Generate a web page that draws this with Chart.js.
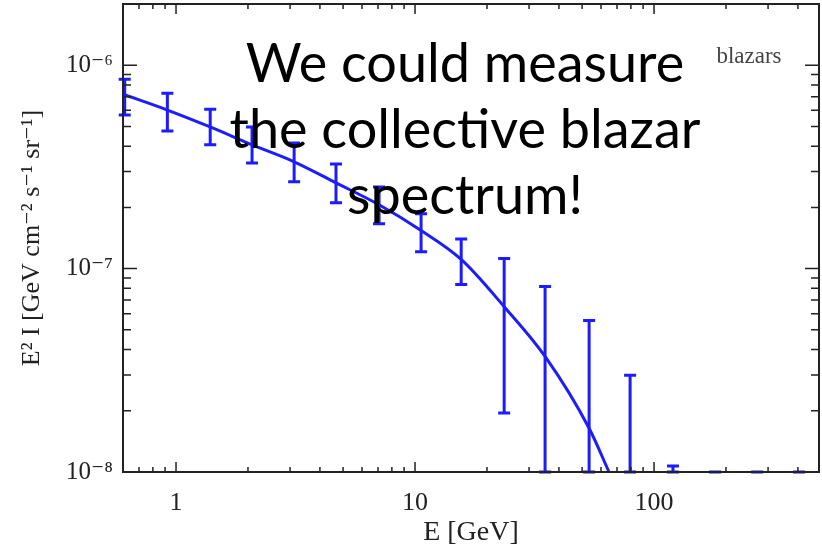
<!DOCTYPE html>
<html>
<head>
<meta charset="utf-8">
<script src="https://cdn.jsdelivr.net/npm/chart.js@4.4.1/dist/chart.umd.min.js"></script>
<style>
  html, body { margin: 0; padding: 0; background: #fff; }
  #wrap { width: 822px; height: 547px; }
</style>
</head>
<body>
<div id="wrap"><canvas id="spectrum" width="822" height="547"></canvas></div>
<script>
// ── Data ──────────────────────────────────────────────────

// bin energies [GeV]
const energies = [0.61, 0.92, 1.39, 2.08, 3.12, 4.67, 7.07, 10.6, 15.6, 23.6, 35.0, 53.5, 79.4, 120, 180, 270, 404];
// error bar ends, E^2 I [GeV cm^-2 s^-1 sr^-1]
const fluxHigh = [8.54e-7, 7.29e-7, 6.08e-7, 4.97e-7, 4.15e-7, 3.27e-7, 2.52e-7, 1.86e-7, 1.40e-7, 1.12e-7, 8.16e-8, 5.56e-8, 2.99e-8, 1.07e-8, 1.0e-8, 1.0e-8, 1.0e-8];
const fluxLow  = [5.69e-7, 4.75e-7, 4.06e-7, 3.31e-7, 2.67e-7, 2.11e-7, 1.66e-7, 1.21e-7, 8.35e-8, 1.95e-8, 1e-9, 1e-9, 1e-9, 1e-9, 1e-9, 1e-9, 1e-9];

// model curve through the bins
const modelE    = [0.6, 0.92, 1.39, 2.08, 3.12, 4.67, 7.07, 10.6, 15.6, 23.6, 35.0, 53.5, 64.8];
const modelFlux = [7.2e-7, 6.02e-7, 4.97e-7, 4.06e-7, 3.35e-7, 2.64e-7, 2.06e-7, 1.54e-7, 1.11e-7, 6.5e-8, 3.7e-8, 1.64e-8, 1.0e-8];

// axes
const xRange = [0.6, 490];
const yRange = [1e-8, 2e-6];
const xMajorTicks = [1, 10, 100];
const yMajorTicks = [1e-8, 1e-7, 1e-6];
const yTickLabels = ['10⁻⁸', '10⁻⁷', '10⁻⁶'];
const minorMantissas = [2, 3, 4, 5, 6, 7, 8, 9];

const overlayLines = ['We could measure', 'the collective blazar', 'spectrum!'];

// ── Style ─────────────────────────────────────────────────

const BLUE  = '#1c1cff';
const INK   = '#222222';
const SERIF = '"Liberation Serif", "DejaVu Serif", serif';

function minorTicks(majors, lo, hi) {
    const out = [];
    [majors[0] / 10, ...majors].forEach(d => {
        minorMantissas.forEach(m => {
            const v = m * d;
            if (v > lo && v < hi) out.push(v);
        });
    });
    return out;
}

// ── Plugins ───────────────────────────────────────────────

const errorBarPlugin = {
    id: 'errorBars',
    afterDatasetsDraw(chart) {
        const { ctx, chartArea, scales: { x, y } } = chart;
        ctx.save();
        ctx.strokeStyle = BLUE;
        ctx.lineWidth = 3;
        energies.forEach((e, i) => {
            const px = x.getPixelForValue(e);
            const top = Math.max(y.getPixelForValue(fluxHigh[i]), chartArea.top);
            const bot = Math.min(y.getPixelForValue(fluxLow[i]), chartArea.bottom);
            ctx.beginPath();
            ctx.moveTo(px, top);
            ctx.lineTo(px, bot);
            ctx.moveTo(px - 6, top);
            ctx.lineTo(px + 6, top);
            ctx.moveTo(px - 6, bot);
            ctx.lineTo(px + 6, bot);
            ctx.stroke();
        });
        ctx.restore();
    }
};

const framePlugin = {
    id: 'frame',
    afterDraw(chart) {
        const { ctx, chartArea: a, scales: { x, y } } = chart;
        ctx.save();
        ctx.strokeStyle = INK;
        ctx.lineWidth = 1.5;

        // inward tick marks on all four sides
        const xTicks = [
            ...xMajorTicks.map(v => [v, 10]),
            ...minorTicks(xMajorTicks, xRange[0], xRange[1]).map(v => [v, 5])
        ];
        xTicks.forEach(([v, len]) => {
            const px = x.getPixelForValue(v);
            ctx.beginPath();
            ctx.moveTo(px, a.bottom); ctx.lineTo(px, a.bottom - len);
            ctx.moveTo(px, a.top);    ctx.lineTo(px, a.top + len);
            ctx.stroke();
        });
        const yTicks = [
            ...yMajorTicks.map(v => [v, 14]),
            ...minorTicks(yMajorTicks, yRange[0], yRange[1]).map(v => [v, 8])
        ];
        yTicks.forEach(([v, len]) => {
            const py = y.getPixelForValue(v);
            ctx.beginPath();
            ctx.moveTo(a.left, py);  ctx.lineTo(a.left + len, py);
            ctx.moveTo(a.right, py); ctx.lineTo(a.right - len, py);
            ctx.stroke();
        });

        ctx.lineWidth = 2;
        ctx.strokeRect(a.left, a.top, a.right - a.left, a.bottom - a.top);

        // in-plot label
        ctx.fillStyle = '#444';
        ctx.font = '23px ' + SERIF;
        ctx.textAlign = 'center';
        ctx.textBaseline = 'alphabetic';
        ctx.fillText('blazars', 749, 63);

        // slide overlay
        ctx.fillStyle = '#000';
        ctx.font = '54px Lato, "Open Sans", sans-serif';
        overlayLines.forEach((line, i) => ctx.fillText(line, 465, 82 + i * 66));
        ctx.restore();
    }
};

// ── Chart ─────────────────────────────────────────────────

function drawSpectrum() {
    const ctx = document.getElementById('spectrum').getContext('2d');

    new Chart(ctx, {
        type: 'line',
        data: {
            datasets: [{
                data: modelE.map((e, i) => ({ x: e, y: modelFlux[i] })),
                borderColor: BLUE,
                borderWidth: 3,
                pointRadius: 0,
                fill: false,
                cubicInterpolationMode: 'monotone'
            }]
        },
        options: {
            responsive: false,
            animation: false,
            events: [],
            layout: { padding: { top: 4, right: 3 } },
            plugins: {
                legend:  { display: false },
                tooltip: { enabled: false }
            },
            scales: {
                x: {
                    type: 'logarithmic',
                    min: xRange[0],
                    max: xRange[1],
                    grid:   { display: false, drawTicks: false },
                    border: { display: false },
                    afterBuildTicks: s => { s.ticks = xMajorTicks.map(v => ({ value: v })); },
                    afterFit: s => { s.height = 75; s.paddingLeft = 0; s.paddingRight = 0; },
                    ticks: {
                        autoSkip: false,
                        maxRotation: 0,
                        padding: 16,
                        color: INK,
                        font: { family: SERIF, size: 26 },
                        callback: v => String(v)
                    },
                    title: {
                        display: true,
                        text: 'E [GeV]',
                        color: INK,
                        font: { family: SERIF, size: 28, lineHeight: 1 },
                        padding: { top: 0, bottom: 0 }
                    }
                },
                y: {
                    type: 'logarithmic',
                    min: yRange[0],
                    max: yRange[1],
                    grid:   { display: false, drawTicks: false },
                    border: { display: false },
                    afterBuildTicks: s => { s.ticks = yMajorTicks.map(v => ({ value: v })); },
                    afterFit: s => { s.width = 123; s.paddingTop = 0; s.paddingBottom = 0; },
                    ticks: {
                        autoSkip: false,
                        padding: 10,
                        color: INK,
                        font: { family: SERIF, size: 25 },
                        callback: (v, i) => yTickLabels[i]
                    },
                    title: {
                        display: true,
                        text: 'E² I [GeV cm⁻² s⁻¹ sr⁻¹]',
                        color: INK,
                        font: { family: SERIF, size: 26, lineHeight: 1.2 },
                        padding: { top: 17, bottom: 0 }
                    }
                }
            }
        },
        plugins: [errorBarPlugin, framePlugin]
    });
}

drawSpectrum();
</script>
</body>
</html>
